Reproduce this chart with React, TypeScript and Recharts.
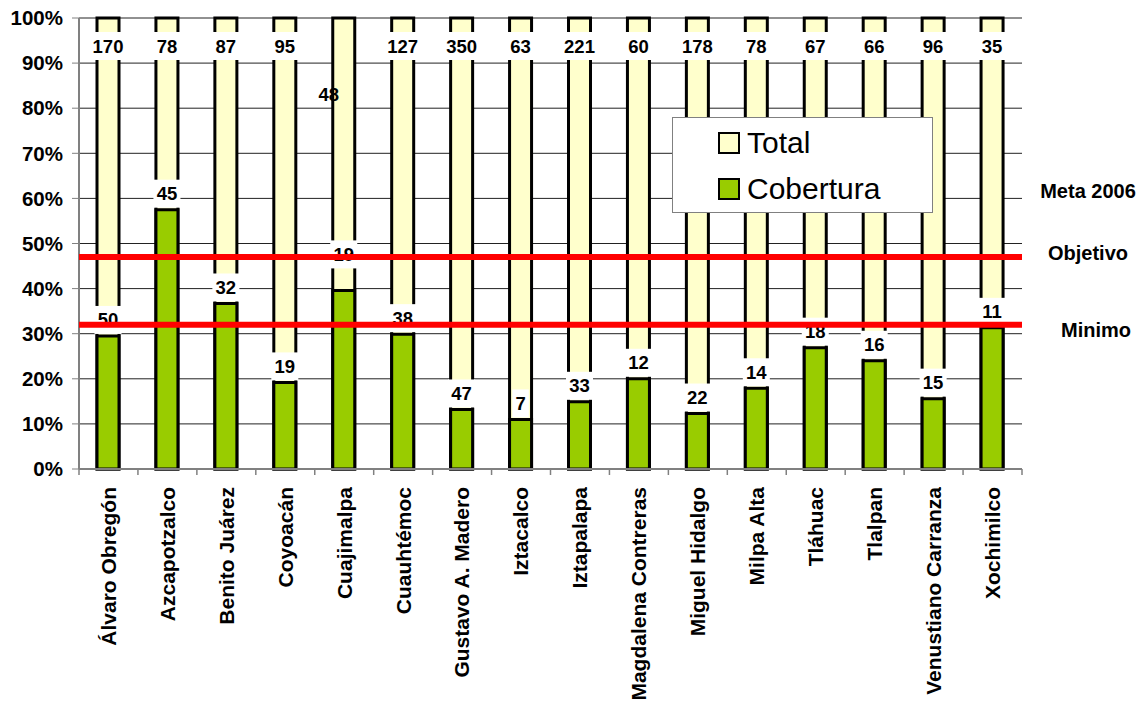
import React from "react";
import {
  BarChart,
  Bar,
  XAxis,
  YAxis,
  CartesianGrid,
  ReferenceLine,
  Legend,
  LabelList,
} from "recharts";

// delegaciones (eje X)
const delegaciones = [
  "Álvaro Obregón",
  "Azcapotzalco",
  "Benito Juárez",
  "Coyoacán",
  "Cuajimalpa",
  "Cuauhtémoc",
  "Gustavo A. Madero",
  "Iztacalco",
  "Iztapalapa",
  "Magdalena Contreras",
  "Miguel Hidalgo",
  "Milpa Alta",
  "Tláhuac",
  "Tlalpan",
  "Venustiano Carranza",
  "Xochimilco",
];

// etiquetas de cada columna
const totales = [170, 78, 87, 95, 48, 127, 350, 63, 221, 60, 178, 78, 67, 66, 96, 35];
const cubiertos = [50, 45, 32, 19, 19, 38, 47, 7, 33, 12, 22, 14, 18, 16, 15, 11];

// altura de las barras en %
const totalPct = [100, 100, 100, 100, 100, 100, 100, 100, 100, 100, 100, 100, 100, 100, 100, 100];
const coberturaPct = [29.5, 57.5, 36.7, 19.2, 39.6, 29.9, 13.2, 11.0, 14.9, 20.0, 12.3, 17.9, 26.9, 24.0, 15.6, 31.3];

const yTicks = [0, 10, 20, 30, 40, 50, 60, 70, 80, 90, 100];

const META_2006 = 59;
const OBJETIVO = 47;
const MINIMO = 32;

const YELLOW = "#FFFFCC";
const GREEN = "#99CC00";
const RED = "#FF0000";
const FONT = "'Liberation Sans', Arial, Helvetica, sans-serif";

const W = 1144;
const H = 703;
const LEFT = 79;
const RIGHT = 122;
const TOP = 18;
const BOTTOM = 234;
const SLOT = (W - LEFT - RIGHT) / delegaciones.length;

const data = delegaciones.map((d, i) => ({
  name: d,
  totalPct: totalPct[i],
  coberturaPct: coberturaPct[i],
  total: totales[i],
  cubiertos: cubiertos[i],
}));

const legendItems = [
  { label: "Total", color: YELLOW },
  { label: "Cobertura", color: GREEN },
];

function boxedText(cx: number, cy: number, value: any) {
  const w = String(value).length * 10.5 + 6;
  return (
    <g>
      <rect x={cx - w / 2} y={cy - 14} width={w} height={28} fill="#fff" />
      <text
        x={cx}
        y={cy}
        textAnchor="middle"
        dominantBaseline="central"
        fontFamily={FONT}
        fontWeight="bold"
        fontSize={18.5}
        fill="#000"
      >
        {value}
      </text>
    </g>
  );
}

const TotalLabel = (props: any) => {
  const { x, y, width, height, value, index } = props;
  const cx = x + width / 2;
  if (index === 4) {
    // en el original la etiqueta de Cuajimalpa quedó suelta, sin fondo
    return (
      <text
        x={cx - 15}
        y={y + height * 0.17}
        textAnchor="middle"
        dominantBaseline="central"
        fontFamily={FONT}
        fontWeight="bold"
        fontSize={18.5}
        fill="#000"
      >
        {value}
      </text>
    );
  }
  return boxedText(cx, y + 28, value);
};

const CoberturaLabel = (props: any) => {
  const { x, y, width, value, index } = props;
  // Cuajimalpa: la etiqueta quedó más arriba, bajo la línea roja
  const lift = index === 4 ? 36 : 16;
  return boxedText(x + width / 2, y - lift, value);
};

const CategoryTick = (props: any) => {
  const { x, y, payload, index } = props;
  return (
    <g>
      {index === 0 && (
        <line x1={x - SLOT / 2} x2={x - SLOT / 2} y1={y} y2={y + 6} stroke="#808080" strokeWidth={1.5} />
      )}
      <line x1={x + SLOT / 2} x2={x + SLOT / 2} y1={y} y2={y + 6} stroke="#808080" strokeWidth={1.5} />
      <text
        x={x}
        y={y + 18}
        transform={`rotate(-90, ${x}, ${y + 18})`}
        textAnchor="end"
        dy="0.35em"
        fontFamily={FONT}
        fontWeight="bold"
        fontSize={21}
        fill="#000"
      >
        {payload.value}
      </text>
    </g>
  );
};

const sideLabel = (text: string, dx: number, dy: number) => (props: any) => {
  const vb = props.viewBox || {};
  return (
    <text
      x={vb.x + vb.width + dx}
      y={vb.y + dy}
      textAnchor="middle"
      dominantBaseline="central"
      fontFamily={FONT}
      fontWeight="bold"
      fontSize={20}
      fill="#000"
    >
      {text}
    </text>
  );
};

const renderLegend = () => (
  <div
    style={{
      width: 261,
      height: 96,
      boxSizing: "border-box",
      border: "1px solid #808080",
      background: "#fff",
      paddingTop: 2,
      fontFamily: FONT,
      fontSize: 30,
      color: "#000",
    }}
  >
    {legendItems.map((it) => (
      <div
        key={it.label}
        style={{ display: "flex", alignItems: "center", height: 46, paddingLeft: 45 }}
      >
        <span
          style={{
            display: "inline-block",
            width: 18,
            height: 18,
            border: "2px solid #000",
            background: it.color,
            marginRight: 7,
          }}
        />
        <span>{it.label}</span>
      </div>
    ))}
  </div>
);

export default function App() {
  return (
    <div style={{ position: "absolute", left: 0, top: 0, width: W, height: H, background: "#fff" }}>
      <BarChart
        width={W}
        height={H}
        data={data}
        margin={{ top: TOP, right: RIGHT, left: 0, bottom: 0 }}
      >
        <CartesianGrid vertical={false} stroke="#222" strokeWidth={1} />
        <XAxis
          xAxisId="back"
          dataKey="name"
          interval={0}
          height={BOTTOM}
          tickSize={0}
          tickMargin={0}
          tickLine={false}
          axisLine={{ stroke: "#808080", strokeWidth: 2 }}
          tick={<CategoryTick />}
        />
        <XAxis xAxisId="front" dataKey="name" hide />
        <YAxis
          domain={[0, 100]}
          ticks={yTicks}
          interval={0}
          width={LEFT}
          tickSize={7}
          tickMargin={9}
          tickFormatter={(v: number) => `${v}%`}
          tick={{ fontFamily: FONT, fontWeight: "bold", fontSize: 20.5, fill: "#000" }}
          axisLine={{ stroke: "#808080", strokeWidth: 2 }}
          tickLine={{ stroke: "#808080" }}
        />
        <YAxis
          yAxisId="borde"
          orientation="right"
          domain={[0, 100]}
          width={0}
          tick={false}
          tickLine={false}
          axisLine={{ stroke: "#808080", strokeWidth: 2 }}
        />
        <Legend
          layout="vertical"
          align="center"
          verticalAlign="middle"
          content={renderLegend}
          wrapperStyle={{ left: 672, top: 117, width: 261, height: 96 }}
        />
        <Bar
          xAxisId="back"
          dataKey="totalPct"
          name="Total"
          fill={YELLOW}
          stroke="#000"
          strokeWidth={3}
          barSize={22}
          isAnimationActive={false}
        >
          <LabelList dataKey="total" content={<TotalLabel />} />
        </Bar>
        <Bar
          xAxisId="front"
          dataKey="coberturaPct"
          name="Cobertura"
          fill={GREEN}
          stroke="#000"
          strokeWidth={3}
          barSize={22}
          isAnimationActive={false}
        >
          <LabelList dataKey="cubiertos" content={<CoberturaLabel />} />
        </Bar>
        <ReferenceLine
          xAxisId="back"
          y={META_2006}
          stroke="none"
          strokeOpacity={0}
          label={sideLabel("Meta 2006", 66, -12)}
          zIndex={2100}
        />
        <ReferenceLine
          xAxisId="back"
          y={OBJETIVO}
          stroke={RED}
          strokeWidth={6}
          label={sideLabel("Objetivo", 66, -4)}
          zIndex={2100}
        />
        <ReferenceLine
          xAxisId="back"
          y={MINIMO}
          stroke={RED}
          strokeWidth={6}
          label={sideLabel("Minimo", 74, 5)}
          zIndex={2100}
        />
      </BarChart>
    </div>
  );
}
